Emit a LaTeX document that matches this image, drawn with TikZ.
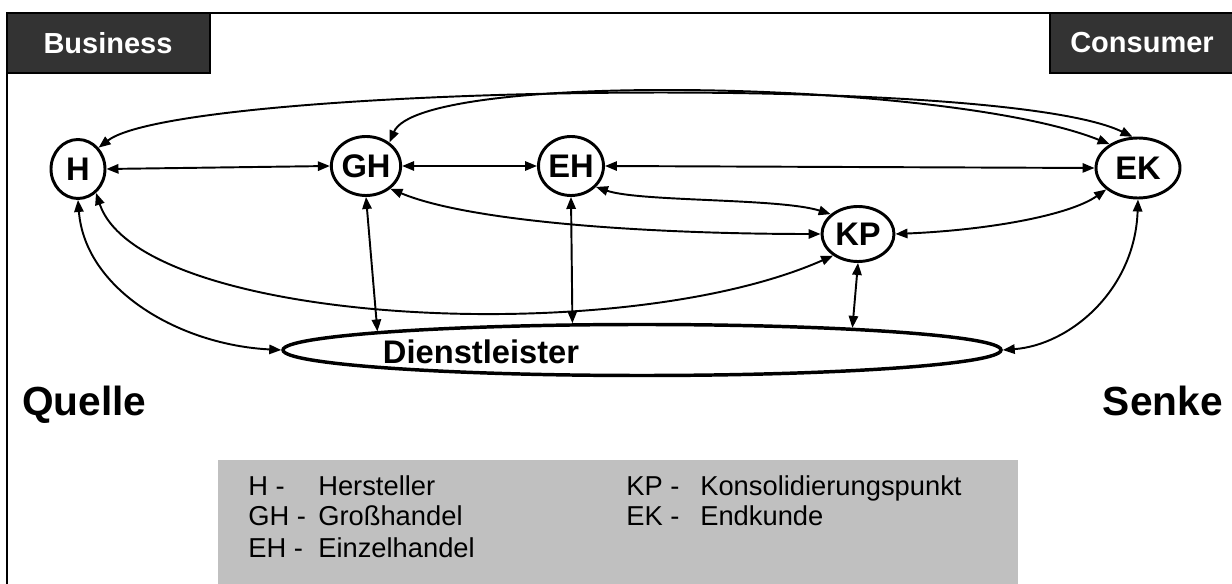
\documentclass[tikz,border=0pt]{standalone}
\usepackage{fontspec}
\setmainfont{Liberation Sans}
\usetikzlibrary{arrows.meta,shapes.geometric}
\definecolor{tabgray}{HTML}{333333}
\definecolor{legendgray}{HTML}{C0C0C0}
\begin{document}
\begin{tikzpicture}[x=0.75pt,y=-0.75pt,
  actor/.style={ellipse,draw,line width=2.2pt,inner sep=0pt,
    font=\fontsize{24.5}{27}\selectfont\bfseries},
  link/.style={line width=1.45pt,
    {Triangle[length=9pt,width=7pt]}-{Triangle[length=9pt,width=7pt]}},
  tab/.style={draw=black,fill=tabgray,line width=0.8pt},
  tabtext/.style={text=white,font=\fontsize{21.75}{24}\selectfont\bfseries},
  side/.style={font=\fontsize{30.5}{34}\selectfont\bfseries},
  legend/.style={font=\fontsize{20.5}{23}\selectfont,anchor=base west,inner sep=0pt}
]
\useasboundingbox (0,0) rectangle (1232,584);

% outer frame (top and left edges)
\draw[line width=1.2pt] (7,600) -- (7,13) -- (1240,13);

% header tabs
\draw[tab] (7,13) rectangle (210,73);
\node[tabtext] (business) at (108,43) {Business};
\draw[tab] (1050,13) rectangle (1245,73);
\node[tabtext] (consumer) at (1142,43) {Consumer};

% actors
\node[actor,minimum width=40.5pt,minimum height=44.25pt] (H)  at (78,169)  {H};
\node[actor,minimum width=51.75pt,minimum height=44.25pt] (GH) at (366,166) {GH};
\node[actor,minimum width=48.75pt,minimum height=44.25pt] (EH) at (571,166) {EH};
\node[actor,minimum width=54pt,minimum height=41.25pt] (KP) at (858,234) {KP};
\node[actor,minimum width=63pt,minimum height=45pt] (EK) at (1138,168) {EK};
\node[ellipse,draw,line width=2.6pt,inner sep=0pt,
      minimum width=538.5pt,minimum height=38.25pt] (D) at (642,350) {};
\node[font=\fontsize{24.5}{27}\selectfont\bfseries] (Dlabel) at (481,352) {Dienstleister};

% straight links along the chain
\draw[link] (H.east) -- (GH.west);
\draw[link] (GH.east) -- (EH.west);
\draw[link] (EH.east) -- (EK.west);

% long arcs over the top
\draw[link] (H.46) .. controls (180,85) and (1000,72) .. (EK.100);
\draw[link] (GH.45) .. controls (420,70) and (950,80) .. (EK.140);

% links to the consolidation point
\draw[link] (EH.-40) .. controls (640,202) and (780,198) .. (KP.144);
\draw[link] (GH.-43) .. controls (470,222) and (650,234) .. (KP.180);
\draw[link] (KP.0) .. controls (990,230) and (1070,215) .. (EK.214);
\draw[link] (H.-53) .. controls (140,325) and (620,350) .. (KP.221);

% links to the service provider
\draw[link] (H.south) .. controls (85,290) and (180,345) .. (D.west);
\draw[link] (GH.south) -- (D.176);
\draw[link] (EH.south) -- (D.159);
\draw[link] (KP.south) -- (D.6);
\draw[link] (EK.south) .. controls (1135,290) and (1070,345) .. (D.east);

% source and sink
\node[side,anchor=base west,inner sep=0pt] (quelle) at (22,416) {Quelle};
\node[side,anchor=base east,inner sep=0pt] (senke) at (1223,416) {Senke};

% legend
\fill[legendgray] (218,460) rectangle (1018,600);
\node[legend] (l1a) at (248,495) {H -};
\node[legend] (l1b) at (318,495) {Hersteller};
\node[legend] (l2a) at (248,526) {GH -};
\node[legend] (l2b) at (318,526) {Großhandel};
\node[legend] (l3a) at (248,557) {EH -};
\node[legend] (l3b) at (318,557) {Einzelhandel};
\node[legend] (l4a) at (626,495) {KP -};
\node[legend] (l4b) at (700,495) {Konsolidierungspunkt};
\node[legend] (l5a) at (626,526) {EK -};
\node[legend] (l5b) at (700,526) {Endkunde};
\end{tikzpicture}
\end{document}
